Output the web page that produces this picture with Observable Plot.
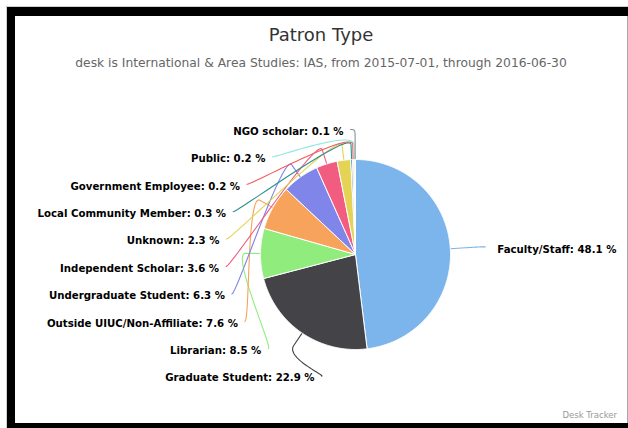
<!DOCTYPE html>
<html>
<head>
<meta charset="utf-8">
<script src="https://cdn.jsdelivr.net/npm/d3@7"></script>
<script src="https://cdn.jsdelivr.net/npm/@observablehq/plot@0.6"></script>
<style>
html, body { margin: 0; padding: 0; background: #fff; width: 628px; height: 428px; overflow: hidden; font-family: "DejaVu Sans", sans-serif; }
#outer { position: absolute; left: 6px; top: 6px; width: 622px; height: 422px; background: #cfcfcf; }
#black { position: absolute; left: 7px; top: 7px; width: 621px; height: 421px; background: #000; }
#panel { position: absolute; left: 15px; top: 16px; width: 612px; height: 407px; background: #fff; }
#edge { position: absolute; left: 627px; top: 16px; width: 1px; height: 407px; background: #a8a8a8; }
#title { position: absolute; left: 0; top: 10px; width: 612px; text-align: center; font-size: 18px; line-height: 18px; color: #333; }
#subtitle { position: absolute; left: 0; top: 41px; width: 612px; text-align: center; font-size: 12.3px; line-height: 12px; color: #666; }
#chart { position: absolute; left: 0; top: 64px; }
#credits { position: absolute; right: 10px; top: 394px; font-size: 8.5px; line-height: 10px; color: #999; }
</style>
</head>
<body>
<div id="outer"></div>
<div id="black"></div>
<div id="panel">
  <div id="title">Patron Type</div>
  <div id="subtitle">desk is International &amp; Area Studies: IAS, from 2015-07-01, through 2016-06-30</div>
  <div id="chart"></div>
  <div id="credits">Desk Tracker</div>
</div>
<div id="edge"></div>
<script>
// ---- data ----
const categories = ["Faculty/Staff", "Graduate Student", "Librarian", "Outside UIUC/Non-Affiliate",
  "Undergraduate Student", "Independent Scholar", "Unknown", "Local Community Member",
  "Government Employee", "Public", "NGO scholar"];
const shares = [48.1, 22.9, 8.5, 7.6, 6.3, 3.6, 2.3, 0.3, 0.2, 0.2, 0.1];
const palette = ["#7cb5ec", "#434348", "#90ed7d", "#f7a35c", "#8085e9", "#f15c80",
  "#e4d354", "#2b908f", "#f45b5b", "#91e8e1", "#8d9199"];

// ---- layout ----
const W = 612, H = 343;
const cx = 340, cy = 174, r = 95;
const R = r + 30;          // label ring
const brk = r + 15;        // connector break
const step = 27.4;         // label slot spacing

const total = d3.sum(shares);
let acc = 0;
const slices = categories.map((name, i) => {
  const a0 = acc / total * 2 * Math.PI;
  acc += shares[i];
  const a1 = acc / total * 2 * Math.PI;
  return {name, value: shares[i], a0, a1, mid: (a0 + a1) / 2};
});
const px = (a, rad) => cx + rad * Math.sin(a);
const py = (a, rad) => cy - rad * Math.cos(a);

// slice polygons
const slicePts = [];
for (const s of slices) {
  slicePts.push({name: s.name, x: cx, y: cy});
  const n = Math.max(2, Math.ceil((s.a1 - s.a0) / (Math.PI / 360)));
  for (let k = 0; k <= n; k++) {
    const a = s.a0 + (s.a1 - s.a0) * k / n;
    slicePts.push({name: s.name, x: px(a, r), y: py(a, r)});
  }
  slicePts.push({name: s.name, x: cx, y: cy});
}

// label positions
const leftS = slices.filter(s => s.mid > Math.PI).sort((a, b) => b.mid - a.mid);
const rightS = slices.filter(s => s.mid <= Math.PI).sort((a, b) => a.mid - b.mid);
leftS.forEach((s, i) => {
  s.ly = cy - R + i * step;
  s.lx = cx - Math.sqrt(Math.max(0, R * R - (s.ly - cy) ** 2));
  s.left = true;
});
rightS.forEach(s => {
  s.ly = py(s.mid, R);
  s.lx = cx + Math.sqrt(Math.max(0, R * R - (s.ly - cy) ** 2));
  s.left = false;
});

// connectors (soft, cubic then straight)
const connPts = [];
for (const s of slices) {
  const sx = s.lx + (s.left ? -5 : 5), sy = s.ly;
  const c1x = s.lx, c1y = s.ly;
  const bx = px(s.mid, brk), by = py(s.mid, brk);
  const ex = px(s.mid, r), ey = py(s.mid, r);
  const c2x = 2 * bx - ex, c2y = 2 * by - ey;
  const N = 30;
  for (let k = 0; k <= N; k++) {
    const t = k / N, u = 1 - t;
    connPts.push({
      name: s.name,
      x: u*u*u*sx + 3*u*u*t*c1x + 3*u*t*t*c2x + t*t*t*bx,
      y: u*u*u*sy + 3*u*u*t*c1y + 3*u*t*t*c2y + t*t*t*by
    });
  }
  connPts.push({name: s.name, x: ex, y: ey});
}

const labelText = s => `${s.name}: ${s.value.toFixed(1)} %`;

const chart = Plot.plot({
  width: W,
  height: H,
  margin: 0,
  x: {domain: [0, W], range: [0, W], axis: null},
  y: {domain: [0, H], range: [0, H], axis: null},
  color: {domain: categories, range: palette},
  style: {background: "transparent", overflow: "visible"},
  marks: [
    Plot.line(connPts, {x: "x", y: "y", z: "name", stroke: "name", strokeWidth: 1.1, fill: "none"}),
    Plot.line(slicePts, {x: "x", y: "y", z: "name", fill: "name", stroke: "#fff", strokeWidth: 1, strokeLinejoin: "round"}),
    Plot.text(leftS, {x: d => d.lx - 12, y: "ly", dy: 2, text: labelText, textAnchor: "end",
      fontSize: 10.2, fontWeight: "bold", fill: "#000", fontFamily: "DejaVu Sans"}),
    Plot.text(rightS, {x: d => d.lx + 17, y: "ly", dy: 3, text: labelText, textAnchor: "start",
      fontSize: 10.2, fontWeight: "bold", fill: "#000", fontFamily: "DejaVu Sans"})
  ]
});
document.getElementById("chart").appendChild(chart);
</script>
</body>
</html>
